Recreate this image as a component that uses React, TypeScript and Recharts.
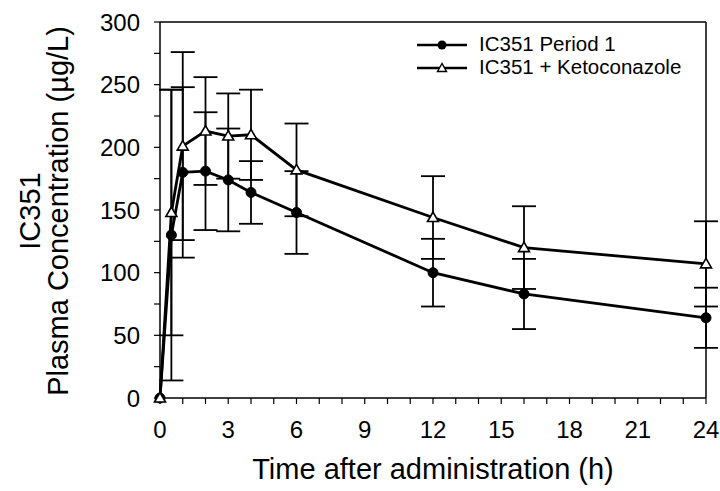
import {
  LineChart,
  Line,
  XAxis,
  YAxis,
  ErrorBar,
  ReferenceLine,
  Legend,
} from "recharts";

const times = [0, 0.5, 1, 2, 3, 4, 6, 12, 16, 24];
const period1 = [0, 130, 180, 181, 174, 164, 148, 100, 83, 64];
const period1Sd = [0, 116, 68, 47, 41, 25, 33, 27, 28, 24];
const keto = [0, 148, 201, 213, 209, 210, 182, 144, 120, 107];
const ketoSd = [0, 98, 75, 43, 34, 36, 37, 33, 33, 34];

const xTicks = Array.from({ length: 25 }, (_, i) => i);
const yTicks = [0, 25, 50, 75, 100, 125, 150, 175, 200, 225, 250, 275, 300];

const SERIES = ["IC351 Period 1", "IC351 + Ketoconazole"];

const FONT = "'Liberation Sans', Arial, sans-serif";

const data = times.map((t, i) => ({
  t,
  p1: period1[i],
  p1Sd: period1Sd[i],
  keto: keto[i],
  ketoSd: ketoSd[i],
}));

function Triangle(props: any) {
  const { cx, cy } = props;
  if (cx == null || cy == null) return null;
  return (
    <polygon
      points={`${cx},${cy - 5.5} ${cx - 5.5},${cy + 4} ${cx + 5.5},${cy + 4}`}
      fill="#fff"
      stroke="#000"
      strokeWidth={1.6}
    />
  );
}

function LegendBox() {
  const row = (label: string, open: boolean) => (
    <div key={label} style={{ display: "flex", alignItems: "center", height: 23 }}>
      <svg width={54} height={14}>
        <line x1={2} y1={7} x2={52} y2={7} stroke="#000" strokeWidth={2.5} />
        {open ? (
          <polygon points="27,2.5 22.5,10.5 31.5,10.5" fill="#fff" stroke="#000" strokeWidth={1.4} />
        ) : (
          <circle cx={27} cy={7} r={4.5} fill="#000" />
        )}
      </svg>
      <span style={{ marginLeft: 10 }}>{label}</span>
    </div>
  );
  return (
    <div style={{ fontFamily: FONT, fontSize: 20.5, color: "#000", lineHeight: 1 }}>
      {row(SERIES[0], false)}
      {row(SERIES[1], true)}
    </div>
  );
}

function YLabel() {
  const cy = 211;
  return (
    <g style={{ fontFamily: FONT, fontSize: 29 }} fill="#000">
      <text x={40} y={cy} textAnchor="middle" transform={`rotate(-90, 40, ${cy})`}>
        IC351
      </text>
      <text x={68} y={cy} textAnchor="middle" transform={`rotate(-90, 68, ${cy})`}>
        Plasma Concentration (µg/L)
      </text>
    </g>
  );
}

const tickStyle = { fill: "#000", fontSize: 24, fontFamily: FONT };

export default function App() {
  return (
    <div style={{ position: "absolute", left: 0, top: 0, background: "#fff" }}>
      <LineChart
        width={720}
        height={491}
        data={data}
        margin={{ top: 22, right: 14, left: 0, bottom: 0 }}
      >
        <XAxis
          dataKey="t"
          type="number"
          domain={[0, 24]}
          ticks={xTicks}
          interval={0}
          tickFormatter={(v: number) => (v % 3 === 0 ? String(v) : "")}
          tick={tickStyle}
          tickSize={6}
          tickMargin={17}
          height={93}
          axisLine={{ stroke: "#000", strokeWidth: 1.5 }}
          tickLine={{ stroke: "#000", strokeWidth: 1.2 }}
          label={{
            value: "Time after administration (h)",
            position: "insideBottom",
            offset: 12,
            style: { fill: "#000", fontSize: 29, fontFamily: FONT },
          }}
        />
        <YAxis
          type="number"
          domain={[0, 300]}
          ticks={yTicks}
          interval={0}
          tickFormatter={(v: number) => (v % 50 === 0 ? String(v) : "")}
          tick={tickStyle}
          tickSize={6}
          tickMargin={14}
          width={160}
          axisLine={{ stroke: "#000", strokeWidth: 1.5 }}
          tickLine={{ stroke: "#000", strokeWidth: 1.2 }}
          label={<YLabel />}
        />
        <ReferenceLine y={300} stroke="#000" strokeWidth={1.5} />
        <ReferenceLine x={24} stroke="#000" strokeWidth={1.5} />
        <Legend
          layout="vertical"
          align="center"
          verticalAlign="middle"
          content={<LegendBox />}
          wrapperStyle={{ top: 33, left: 415, width: 300 }}
        />
        <Line
          dataKey="p1"
          name={SERIES[0]}
          stroke="#000"
          strokeWidth={2.8}
          dot={{ r: 5, fill: "#000", stroke: "#000", strokeWidth: 1 }}
          isAnimationActive={false}
        >
          <ErrorBar dataKey="p1Sd" width={12} stroke="#000" strokeWidth={1.8} direction="y" />
        </Line>
        <Line
          dataKey="keto"
          name={SERIES[1]}
          stroke="#000"
          strokeWidth={2.8}
          dot={<Triangle />}
          isAnimationActive={false}
        >
          <ErrorBar dataKey="ketoSd" width={12} stroke="#000" strokeWidth={1.8} direction="y" />
        </Line>
      </LineChart>
    </div>
  );
}
